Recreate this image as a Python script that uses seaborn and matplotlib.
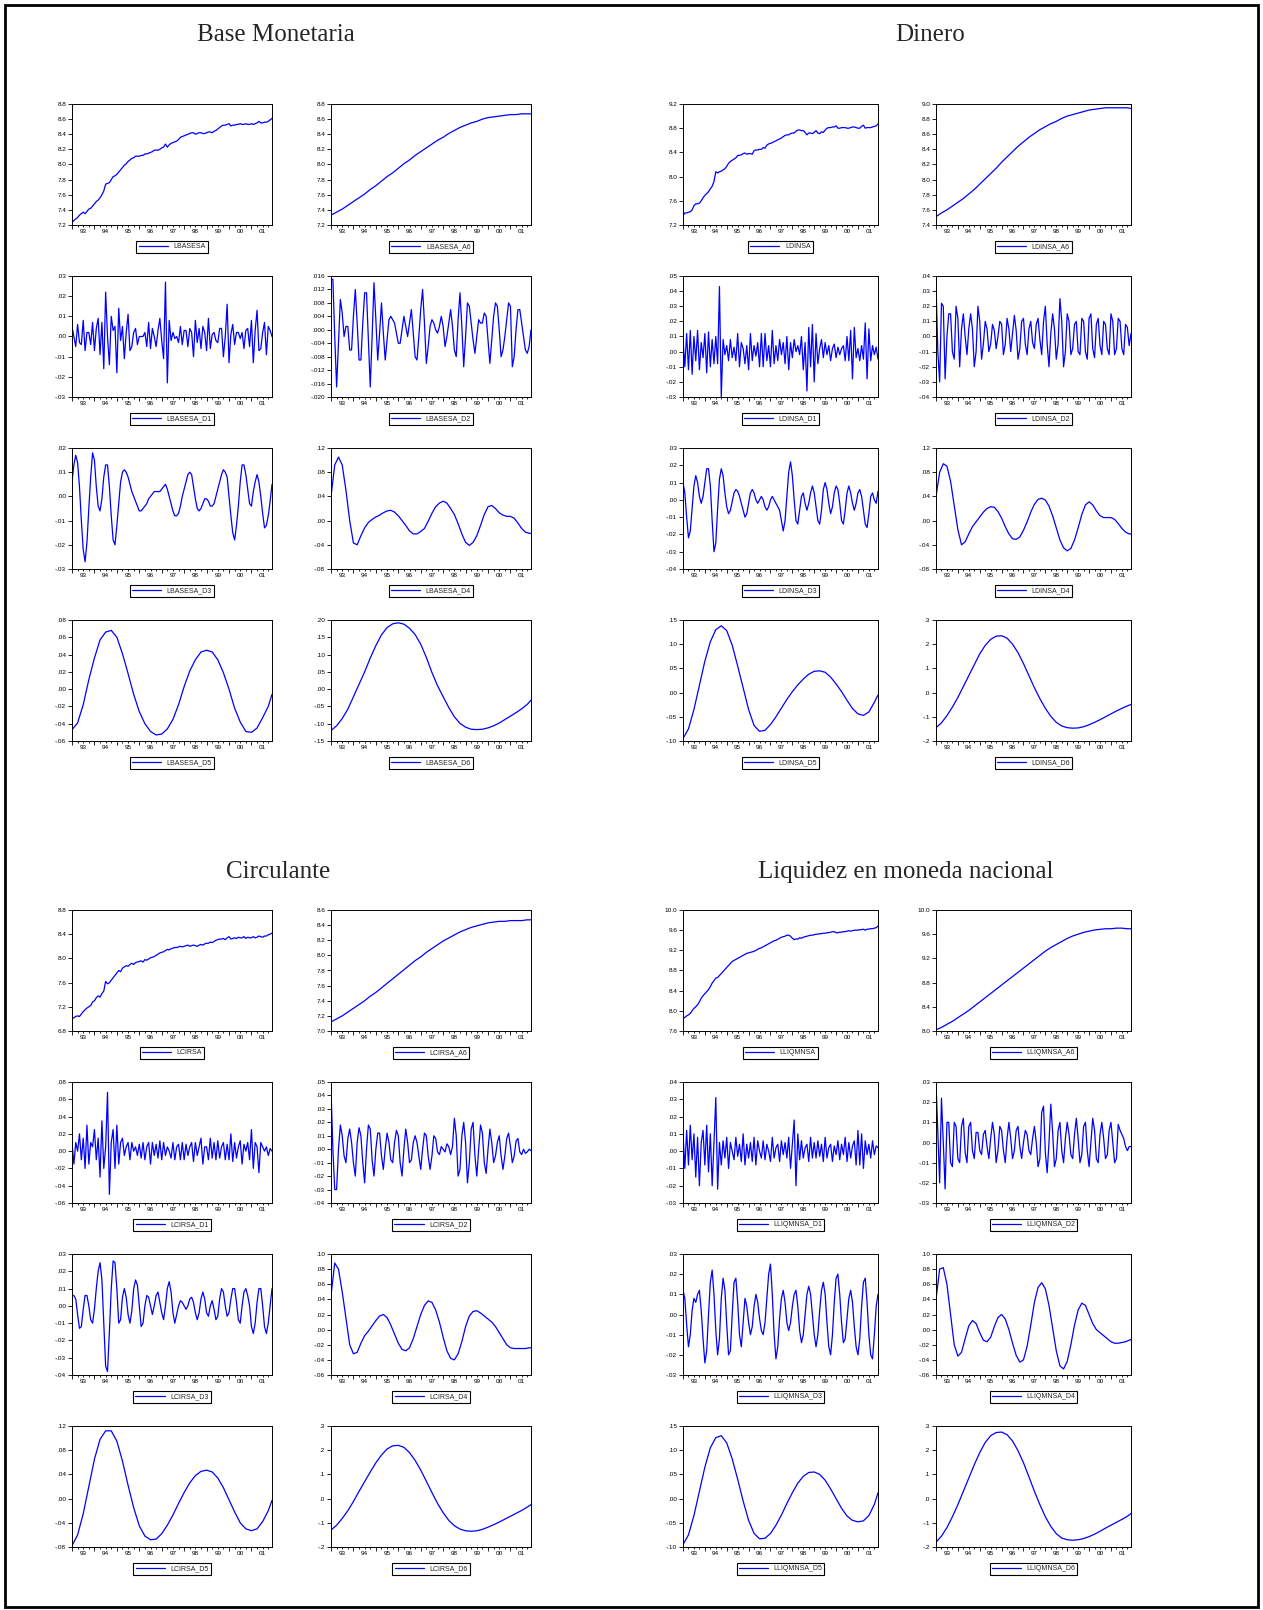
import numpy as np
import seaborn as sns
import matplotlib.pyplot as plt
from matplotlib.patches import Rectangle
from matplotlib.ticker import FixedLocator, FuncFormatter

sns.set_style('ticks')
plt.rcParams['font.family'] = ['Liberation Sans', 'DejaVu Sans']

# ---------------------------------------------------------------------------
# fechas: meses desde 1993:01 (mensual, bimestral, trimestral)
t_m = np.arange(108)
t_b = np.r_[np.arange(0, 107, 2), 107]
t_q = np.r_[np.arange(0, 106, 3), 107]
years = ['93', '94', '95', '96', '97', '98', '99', '00', '01']

# ---------------------------------------------------------------------------
# Base Monetaria
lbasesa = [7.23, 7.26, 7.28, 7.30, 7.33, 7.35, 7.37, 7.35, 7.38, 7.41, 7.42, 7.45,
           7.48, 7.51, 7.53, 7.56, 7.60, 7.65, 7.74, 7.75, 7.76, 7.80, 7.84, 7.85,
           7.87, 7.90, 7.93, 7.96, 7.99, 8.01, 8.04, 8.06, 8.08, 8.09, 8.11, 8.11,
           8.11, 8.12, 8.12, 8.14, 8.14, 8.15, 8.16, 8.17, 8.19, 8.19, 8.19, 8.20,
           8.22, 8.23, 8.27, 8.23, 8.26, 8.28, 8.29, 8.30, 8.31, 8.33, 8.36, 8.37,
           8.38, 8.39, 8.40, 8.41, 8.42, 8.42, 8.40, 8.41, 8.42, 8.42, 8.41, 8.41,
           8.42, 8.43, 8.43, 8.42, 8.44, 8.45, 8.47, 8.49, 8.51, 8.52, 8.52, 8.53,
           8.54, 8.51, 8.52, 8.52, 8.53, 8.53, 8.54, 8.53, 8.53, 8.54, 8.53, 8.53,
           8.54, 8.53, 8.54, 8.55, 8.57, 8.55, 8.55, 8.56, 8.56, 8.57, 8.59, 8.61]
lbasesa_a6 = [7.33, 7.37, 7.41, 7.46, 7.51, 7.56, 7.61, 7.67, 7.72, 7.78, 7.84, 7.89,
              7.95, 8.01, 8.06, 8.12, 8.17, 8.22, 8.27, 8.32, 8.36, 8.41, 8.45, 8.49,
              8.52, 8.55, 8.57, 8.60, 8.62, 8.63, 8.64, 8.65, 8.66, 8.66, 8.67, 8.67, 8.67]
lbasesa_d1 = [.005, .000, -.005, .006, -.003, -.004, .008, -.007, .002, .002, -.004, .007,
              -.007, .004, .009, -.009, .007, -.016, .022, .000, -.014, .010, .003, .005,
              -.018, .014, -.002, .005, -.011, .002, .011, -.007, -.005, .002, .004, -.004,
              .000, .000, .000, .002, -.005, .007, -.006, .004, .000, -.005, .003, .009,
              -.002, -.011, .027, -.023, .008, -.002, .002, -.001, .000, -.003, .005, -.004,
              .003, .003, -.005, .004, .002, -.010, .008, -.003, .004, -.006, .005, .002,
              -.007, .009, -.006, .001, .002, -.002, -.003, .004, .004, -.010, .000, .016,
              -.013, .001, .006, -.004, .002, .002, -.001, .002, -.006, .003, .004, -.005,
              .008, -.013, .003, .013, -.007, -.006, .002, .007, -.009, .005, .003, .000]
lbasesa_d2 = [.015, .015, -.002, -.017, -.004, .009, .005, -.002, .001, .001, -.006, -.006,
              .004, .012, .002, -.009, -.009, .002, .011, .011, -.003, -.017, -.002, .014,
              .003, -.009, -.001, .008, -.001, -.009, -.003, .003, .004, .003, .002, -.001,
              -.004, -.004, .000, .004, .001, -.002, .002, .006, -.001, -.008, -.009, -.002,
              .006, .012, .002, -.010, -.005, .001, .003, .002, .000, -.001, .001, .004,
              .001, -.005, -.002, .002, .006, .001, -.006, -.008, .003, .011, .001, -.011,
              -.002, .008, .007, .002, -.003, -.007, -.002, .003, .002, .002, .005, .004,
              -.003, -.010, -.003, .004, .008, .007, .000, -.008, -.006, -.002, .003, .008,
              .007, -.011, -.008, .000, .006, .006, .002, -.002, -.006, -.007, -.005, .000]
lbasesa_d3 = [.006, .013, .017, .014, .004, -.010, -.022, -.027, -.019, -.005, .008, .018,
              .015, .004, -.004, -.006, -.001, .008, .013, .013, .004, -.008, -.018, -.020,
              -.012, -.003, .006, .010, .011, .010, .008, .005, .002, .000, -.002, -.004,
              -.006, -.006, -.005, -.004, -.003, -.001, .000, .001, .002, .002, .002, .002,
              .003, .004, .005, .003, .000, -.003, -.006, -.008, -.008, -.007, -.004, .000,
              .003, .006, .009, .010, .009, .004, -.001, -.005, -.006, -.005, -.003, -.001,
              -.001, -.002, -.004, -.004, -.003, .000, .003, .006, .009, .011, .010, .008,
              .000, -.008, -.015, -.018, -.012, -.004, .006, .013, .013, .009, .003, -.003,
              -.004, .002, .006, .009, .006, .000, -.007, -.013, -.012, -.008, -.002, .005]
lbasesa_d4 = [.040, .092, .105, .092, .050, .000, -.037, -.040, -.025, -.012, -.003, .002,
              .006, .009, .013, .016, .017, .014, .008, .000, -.008, -.017, -.022, -.022,
              -.018, -.013, -.001, .012, .023, .029, .032, .029, .020, .010, -.005, -.022,
              -.036, -.041, -.036, -.025, -.008, .010, .023, .025, .020, .013, .009, .007,
              .007, .004, -.004, -.013, -.019, -.021, -.021]
lbasesa_d5 = [-.047, -.039, -.018, .011, .036, .057, .066, .068, .060, .041, .018, -.006,
              -.026, -.040, -.049, -.053, -.052, -.046, -.035, -.018, .003, .021, .034, .043,
              .045, .043, .034, .019, .000, -.022, -.038, -.049, -.050, -.045, -.033, -.020, -.006]
lbasesa_d6 = [-.120, -.106, -.085, -.058, -.022, .014, .050, .090, .126, .157, .178, .189,
              .192, .188, .176, .158, .130, .092, .048, .010, -.022, -.053, -.080, -.099,
              -.110, -.116, -.117, -.116, -.112, -.106, -.098, -.088, -.078, -.068, -.057, -.044, -.032]

# ---------------------------------------------------------------------------
# Dinero
ldinsa = [7.35, 7.40, 7.40, 7.41, 7.42, 7.45, 7.52, 7.55, 7.55, 7.56, 7.60, 7.65,
          7.69, 7.72, 7.75, 7.80, 7.84, 7.92, 8.08, 8.06, 8.08, 8.09, 8.11, 8.13,
          8.17, 8.22, 8.25, 8.27, 8.29, 8.31, 8.35, 8.35, 8.36, 8.38, 8.39, 8.37,
          8.38, 8.38, 8.37, 8.43, 8.44, 8.44, 8.45, 8.45, 8.48, 8.47, 8.52, 8.54,
          8.55, 8.56, 8.58, 8.59, 8.61, 8.62, 8.64, 8.66, 8.68, 8.69, 8.69, 8.71,
          8.72, 8.72, 8.75, 8.77, 8.77, 8.76, 8.76, 8.73, 8.69, 8.72, 8.72, 8.71,
          8.73, 8.76, 8.72, 8.71, 8.74, 8.73, 8.77, 8.80, 8.81, 8.81, 8.82, 8.82,
          8.84, 8.80, 8.80, 8.81, 8.81, 8.81, 8.80, 8.80, 8.81, 8.82, 8.82, 8.81,
          8.80, 8.80, 8.83, 8.85, 8.80, 8.81, 8.81, 8.81, 8.82, 8.83, 8.84, 8.87]
ldinsa_a6 = [7.51, 7.56, 7.60, 7.65, 7.70, 7.75, 7.81, 7.87, 7.94, 8.01, 8.08, 8.15,
             8.23, 8.30, 8.37, 8.44, 8.50, 8.56, 8.61, 8.66, 8.70, 8.74, 8.77, 8.81,
             8.84, 8.86, 8.88, 8.90, 8.92, 8.93, 8.94, 8.95, 8.95, 8.95, 8.95, 8.95, 8.94]
ldinsa_d1 = [.008, -.010, .012, -.012, .014, -.015, .010, -.006, .014, -.012, .006, -.004,
             .012, -.014, .013, -.010, .008, -.008, .010, -.008, .043, -.030, .008, -.002,
             .004, -.006, .008, -.004, .003, -.006, .012, -.010, .006, .002, -.008, .004,
             -.012, .012, -.006, .004, -.003, .006, -.010, .012, -.010, .012, -.006, .004,
             -.010, .014, -.008, .004, -.006, .008, -.002, .006, -.008, .010, -.012, .006,
             -.004, .008, .000, .004, -.002, .010, -.012, .006, -.026, .016, -.010, .018,
             -.020, .012, -.008, .002, .008, -.004, .006, -.002, .004, -.006, .002, .005,
             -.004, .003, -.002, .002, .004, -.006, .010, -.006, .014, -.018, .016, -.004,
             .002, -.006, .004, -.005, .019, -.018, .015, -.006, .004, -.002, .003, -.005]
ldinsa_d2 = [.035, -.010, -.030, .022, .020, -.028, .000, .015, .015, -.010, -.015, .020,
             .012, -.020, .005, .015, .000, -.012, .005, .015, .005, -.020, -.010, .020,
             .010, -.015, -.005, .010, .005, -.010, -.005, .008, .004, -.008, .000, .010,
             .008, -.012, -.005, .012, .005, -.010, .002, .014, .004, -.015, -.008, .010,
             .012, -.005, -.012, .005, .010, -.004, -.008, .008, .012, -.002, -.012, .010,
             .020, -.005, -.020, .002, .015, .005, -.015, -.005, .025, .010, -.020, -.010,
             .015, .010, -.012, -.008, .008, .010, -.010, -.012, .012, .010, -.010, -.015,
             .012, .015, -.008, -.014, .008, .012, -.006, -.012, .010, .008, -.008, -.012,
             .015, .010, -.012, -.008, .012, .010, -.008, -.012, .008, .006, -.006, .002]
ldinsa_d3 = [.010, .004, -.010, -.022, -.018, -.005, .008, .014, .010, .002, -.002, .002,
             .010, .018, .018, .008, -.012, -.030, -.025, -.005, .012, .018, .014, .004,
             -.004, -.008, -.006, -.001, .004, .006, .005, .002, -.002, -.006, -.010, -.008,
             -.002, .004, .006, .004, .000, -.002, .000, .002, .000, -.004, -.006, -.004,
             .000, .002, .000, -.002, -.004, -.006, -.012, -.018, -.012, .002, .016, .022,
             .014, .000, -.012, -.014, -.006, .002, .004, -.002, -.006, -.002, .004, .008,
             .004, -.004, -.012, -.014, -.006, .006, .010, .006, -.002, -.008, -.004, .004,
             .008, .006, -.002, -.012, -.014, -.006, .004, .008, .004, -.002, -.006, -.002,
             .004, .006, .002, -.006, -.014, -.016, -.008, .002, .004, .000, -.002, .005]
ldinsa_d4 = [.040, .080, .094, .090, .065, .025, -.015, -.040, -.035, -.022, -.010, -.002,
             .006, .014, .020, .023, .022, .015, .004, -.010, -.022, -.030, -.031, -.027,
             -.016, -.002, .014, .027, .035, .037, .034, .024, .008, -.012, -.032, -.045,
             -.050, -.046, -.032, -.012, .010, .026, .031, .026, .016, .008, .005, .005,
             .005, .002, -.005, -.013, -.019, -.022, -.022]
ldinsa_d5 = [-.095, -.075, -.035, .015, .065, .105, .130, .138, .128, .098, .055, .010,
             -.035, -.068, -.080, -.078, -.066, -.050, -.032, -.014, .002, .016, .028, .038,
             .044, .045, .042, .032, .018, .002, -.016, -.033, -.044, -.047, -.040, -.020, -.005]
ldinsa_d6 = [-.145, -.125, -.095, -.060, -.020, .025, .070, .115, .160, .195, .220, .233,
             .235, .225, .200, .165, .120, .070, .020, -.025, -.065, -.098, -.123, -.138,
             -.145, -.147, -.146, -.141, -.133, -.123, -.112, -.100, -.088, -.076, -.065, -.055, -.049]

# ---------------------------------------------------------------------------
# Circulante
lcirsa = [7.00, 7.02, 7.04, 7.05, 7.04, 7.08, 7.12, 7.15, 7.18, 7.20, 7.22, 7.28,
          7.30, 7.35, 7.38, 7.36, 7.42, 7.46, 7.62, 7.58, 7.60, 7.64, 7.68, 7.72,
          7.76, 7.80, 7.78, 7.84, 7.86, 7.88, 7.87, 7.90, 7.92, 7.90, 7.93, 7.94,
          7.95, 7.96, 7.94, 7.98, 7.97, 7.99, 8.01, 8.02, 8.03, 8.05, 8.07, 8.09,
          8.10, 8.11, 8.13, 8.15, 8.14, 8.16, 8.17, 8.18, 8.18, 8.19, 8.20, 8.19,
          8.20, 8.21, 8.22, 8.20, 8.21, 8.22, 8.21, 8.20, 8.22, 8.23, 8.22, 8.24,
          8.25, 8.25, 8.27, 8.26, 8.28, 8.30, 8.31, 8.32, 8.32, 8.33, 8.31, 8.34,
          8.36, 8.32, 8.33, 8.34, 8.33, 8.35, 8.34, 8.34, 8.36, 8.33, 8.35, 8.34,
          8.34, 8.36, 8.34, 8.35, 8.37, 8.36, 8.35, 8.37, 8.37, 8.39, 8.40, 8.42]
lcirsa_a6 = [7.12, 7.16, 7.20, 7.25, 7.30, 7.35, 7.40, 7.46, 7.51, 7.57, 7.63, 7.69,
             7.75, 7.81, 7.87, 7.93, 7.98, 8.04, 8.09, 8.14, 8.19, 8.23, 8.27, 8.31,
             8.34, 8.37, 8.39, 8.41, 8.43, 8.44, 8.45, 8.45, 8.46, 8.46, 8.46, 8.47, 8.47]
lcirsa_d1 = [.010, -.015, .010, .000, .020, -.010, .015, -.020, .030, -.015, .010, .005,
             .025, -.010, .015, -.030, .035, -.020, .005, .068, -.050, .010, .025, -.020,
             .030, -.015, .010, .015, -.005, .005, .010, -.010, .010, .000, .005, -.005,
             .008, -.008, .010, -.010, .005, .010, -.015, .010, -.005, .008, -.008, .012,
             -.010, .010, -.005, .005, .000, -.008, .010, -.010, .005, .008, -.010, .010,
             -.010, .008, -.005, .005, .010, -.012, .010, -.005, .005, .015, -.015, .005,
             .005, -.010, .015, -.008, .010, -.010, .012, -.008, .005, .010, -.010, .008,
             -.010, .020, -.012, .010, -.008, .005, .012, -.015, .008, .000, .010, -.010,
             .025, -.020, .010, .005, -.025, .010, .005, .000, .005, -.005, .003, .000]
lcirsa_d2 = [.045, .000, -.030, -.030, .000, .018, .010, -.005, -.010, .008, .015, .005,
             -.010, -.020, .005, .016, .010, -.010, -.025, .000, .018, .015, -.008, -.020,
             .000, .012, .012, -.005, -.015, .000, .012, .005, -.008, -.010, .005, .014,
             .010, -.010, -.020, .000, .015, .005, -.010, -.008, .005, .010, .005, -.005,
             -.015, .000, .012, .010, -.005, -.015, -.005, .010, .008, -.002, -.004, .002,
             .000, -.002, .004, .002, -.004, .002, .023, .010, -.020, -.015, .010, .020,
             .005, -.025, -.010, .015, .020, -.005, -.020, .000, .018, .012, -.010, -.018,
             .000, .015, .005, -.010, -.005, .005, .010, -.005, -.015, -.005, .008, .012,
             .002, -.010, -.005, .006, .008, -.002, -.004, .000, -.003, -.002, .000, -.001]
lcirsa_d3 = [.006, .006, .004, -.005, -.013, -.012, -.002, .006, .006, .000, -.008, -.010,
             -.002, .010, .020, .025, .015, -.010, -.035, -.038, -.015, .010, .026, .025,
             .010, -.010, -.008, .005, .010, .005, -.005, -.010, -.003, .010, .015, .012,
             .000, -.012, -.010, .000, .006, .005, .000, -.005, .000, .006, .008, .002,
             -.004, -.008, .000, .010, .014, .008, -.004, -.010, -.005, .000, .003, .002,
             .000, -.002, .000, .004, .005, .002, -.004, -.008, -.004, .004, .008, .004,
             -.004, -.006, .000, .003, -.002, -.008, -.006, .004, .010, .008, .000, -.006,
             -.004, .004, .010, .010, .002, -.008, -.010, .000, .008, .010, .006, .000,
             -.012, -.016, -.010, .002, .010, .010, .000, -.012, -.016, -.010, .000, .010]
lcirsa_d4 = [.045, .088, .080, .050, .015, -.020, -.032, -.030, -.018, -.008, -.002, .005,
             .012, .018, .020, .016, .006, -.006, -.018, -.026, -.028, -.024, -.012, .004,
             .020, .032, .038, .036, .026, .010, -.010, -.028, -.038, -.040, -.032, -.016,
             .004, .018, .024, .025, .022, .018, .014, .010, .004, -.004, -.012, -.020,
             -.024, -.025, -.025, -.025, -.025, -.024, -.024]
lcirsa_d5 = [-.078, -.060, -.025, .020, .065, .098, .112, .112, .095, .062, .022, -.015,
             -.045, -.062, -.068, -.067, -.058, -.044, -.027, -.008, .010, .026, .038, .045,
             .047, .044, .034, .018, -.002, -.022, -.040, -.050, -.053, -.050, -.038, -.020, -.003]
lcirsa_d6 = [-.130, -.110, -.082, -.050, -.012, .030, .070, .110, .148, .180, .205, .218,
             .220, .212, .190, .158, .118, .072, .025, -.020, -.058, -.090, -.112, -.126,
             -.133, -.135, -.133, -.127, -.118, -.108, -.097, -.085, -.073, -.061, -.049, -.035, -.025]

# ---------------------------------------------------------------------------
# Liquidez en moneda nacional
lliqmnsa = [7.85, 7.87, 7.90, 7.92, 7.95, 8.00, 8.05, 8.08, 8.12, 8.18, 8.25, 8.30,
            8.34, 8.38, 8.42, 8.48, 8.55, 8.60, 8.65, 8.66, 8.70, 8.74, 8.78, 8.82,
            8.86, 8.90, 8.94, 8.98, 9.00, 9.02, 9.04, 9.06, 9.08, 9.10, 9.12, 9.14,
            9.15, 9.16, 9.17, 9.18, 9.20, 9.22, 9.24, 9.25, 9.27, 9.29, 9.31, 9.33,
            9.35, 9.37, 9.39, 9.40, 9.42, 9.44, 9.46, 9.47, 9.48, 9.50, 9.50, 9.48,
            9.44, 9.41, 9.43, 9.42, 9.45, 9.44, 9.46, 9.47, 9.48, 9.49, 9.50, 9.50,
            9.51, 9.52, 9.52, 9.53, 9.53, 9.54, 9.54, 9.55, 9.55, 9.56, 9.57, 9.57,
            9.55, 9.55, 9.56, 9.56, 9.57, 9.57, 9.58, 9.59, 9.58, 9.59, 9.60, 9.60,
            9.60, 9.61, 9.61, 9.62, 9.60, 9.62, 9.62, 9.63, 9.63, 9.64, 9.65, 9.68]
lliqmnsa_a6 = [8.02, 8.06, 8.11, 8.16, 8.22, 8.28, 8.34, 8.41, 8.48, 8.55, 8.62, 8.69,
               8.76, 8.83, 8.90, 8.97, 9.04, 9.11, 9.18, 9.25, 9.32, 9.38, 9.43, 9.48,
               9.53, 9.57, 9.60, 9.63, 9.65, 9.67, 9.68, 9.69, 9.69, 9.70, 9.70, 9.69, 9.69]
lliqmnsa_d1 = [.010, -.010, .012, -.008, .015, -.005, .010, -.015, .008, -.020, .005, .012,
               -.008, .015, -.012, .010, -.020, .005, .031, -.022, .005, -.008, .006, -.004,
               .008, -.010, .005, .000, -.005, .008, -.003, .004, -.006, .010, -.008, .004,
               -.004, .005, -.006, .008, -.008, .006, .000, -.004, .006, -.005, .004, .000,
               -.006, .008, -.004, .002, .004, -.006, .006, -.002, .005, -.004, .008, -.010,
               .004, .018, -.020, .010, -.005, .006, -.004, .002, .004, -.006, .008, -.004,
               .005, -.004, .006, -.003, .004, -.006, .008, -.004, .002, .004, -.006, .003,
               -.002, .006, -.005, .004, -.002, .008, -.006, .005, -.004, .003, .006, -.008,
               .012, -.008, .010, -.010, .006, -.002, .004, -.004, .006, -.002, .003, .002]
lliqmnsa_d2 = [.030, .005, -.020, .022, .000, -.023, .010, .010, -.010, -.012, .010, .008,
               -.008, -.010, .008, .012, -.005, -.010, .008, .010, -.004, -.008, .005, .005,
               -.004, -.006, .004, .006, -.002, -.008, .002, .010, .004, -.010, -.004, .008,
               .006, -.004, -.010, .002, .010, .002, -.008, -.004, .006, .008, -.002, -.008,
               .000, .006, .004, -.004, -.006, .002, .008, .000, -.012, -.008, .015, .018,
               -.005, -.015, .000, .019, .005, -.012, -.008, .006, .010, -.004, -.010, .002,
               .010, .004, -.006, -.008, .004, .012, .002, -.010, -.006, .008, .010, -.004,
               -.012, .000, .012, .006, -.008, -.010, .004, .010, .002, -.008, -.006, .006,
               .010, .000, -.010, -.008, .009, .006, .004, .002, -.002, -.004, -.002, -.002]
lliqmnsa_d3 = [.012, .008, -.005, -.016, -.010, .002, .008, .006, .010, .012, .002, -.012,
               -.024, -.018, .000, .016, .022, .010, -.008, -.020, -.012, .008, .018, .012,
               -.005, -.020, -.018, .000, .016, .018, .006, -.010, -.016, -.004, .008, .004,
               -.004, -.010, -.006, .004, .010, .006, -.002, -.008, -.010, -.004, .008, .020,
               .025, .010, -.010, -.022, -.016, -.002, .008, .012, .006, -.004, -.008, -.004,
               .004, .010, .012, .004, -.008, -.014, -.010, .000, .010, .014, .010, .000,
               -.010, -.016, -.010, .002, .012, .016, .010, -.004, -.016, -.020, -.010, .006,
               .018, .020, .010, -.004, -.014, -.012, -.002, .008, .012, .006, -.006, -.016,
               -.020, -.012, .004, .016, .018, .006, -.010, -.020, -.022, -.010, .004, .010]
lliqmnsa_d4 = [.040, .080, .082, .060, .020, -.020, -.035, -.030, -.012, .005, .012, .008,
               -.004, -.014, -.016, -.010, .004, .016, .020, .014, .000, -.018, -.034, -.043,
               -.040, -.022, .006, .036, .056, .062, .054, .032, .002, -.028, -.048, -.052,
               -.042, -.020, .006, .026, .035, .032, .020, .008, .000, -.004, -.008, -.012,
               -.016, -.018, -.018, -.017, -.016, -.014, -.013]
lliqmnsa_d5 = [-.095, -.075, -.035, .015, .065, .105, .126, .130, .115, .082, .040, -.005,
               -.045, -.072, -.083, -.082, -.072, -.055, -.034, -.010, .012, .032, .046, .054,
               .055, .050, .038, .020, .000, -.020, -.036, -.045, -.048, -.046, -.035, -.012, .012]
lliqmnsa_d6 = [-.180, -.155, -.120, -.075, -.025, .030, .085, .140, .190, .232, .260, .273,
               .275, .264, .238, .198, .148, .090, .030, -.025, -.075, -.115, -.145, -.163,
               -.170, -.172, -.170, -.165, -.157, -.147, -.135, -.122, -.110, -.098, -.086, -.073, -.062]

# ---------------------------------------------------------------------------
# paneles de cada bloque: (etiqueta, serie, fechas, ymin, ymax, paso, decimales)
grupos = [
    ('Base Monetaria', (276, 41), [72, 331], 200, [104, 276, 448, 620], [
        ('LBASESA', lbasesa, t_m, 7.2, 8.8, 0.2, 1),
        ('LBASESA_A6', lbasesa_a6, t_q, 7.2, 8.8, 0.2, 1),
        ('LBASESA_D1', lbasesa_d1, t_m, -.03, .03, .01, 2),
        ('LBASESA_D2', lbasesa_d2, t_m, -.020, .016, .004, 3),
        ('LBASESA_D3', lbasesa_d3, t_m, -.03, .02, .01, 2),
        ('LBASESA_D4', lbasesa_d4, t_b, -.08, .12, .04, 2),
        ('LBASESA_D5', lbasesa_d5, t_q, -.06, .08, .02, 2),
        ('LBASESA_D6', lbasesa_d6, t_q, -.15, .20, .05, 2)]),
    ('Dinero', (930, 41), [683, 936], 195, [104, 276, 448, 620], [
        ('LDINSA', ldinsa, t_m, 7.2, 9.2, 0.4, 1),
        ('LDINSA_A6', ldinsa_a6, t_q, 7.4, 9.0, 0.2, 1),
        ('LDINSA_D1', ldinsa_d1, t_m, -.03, .05, .01, 2),
        ('LDINSA_D2', ldinsa_d2, t_m, -.04, .04, .01, 2),
        ('LDINSA_D3', ldinsa_d3, t_m, -.04, .03, .01, 2),
        ('LDINSA_D4', ldinsa_d4, t_b, -.08, .12, .04, 2),
        ('LDINSA_D5', ldinsa_d5, t_q, -.10, .15, .05, 2),
        ('LDINSA_D6', ldinsa_d6, t_q, -.2, .3, .1, 1)]),
    ('Circulante', (278, 878), [72, 331], 200, [910, 1082, 1254, 1426], [
        ('LCIRSA', lcirsa, t_m, 6.8, 8.8, 0.4, 1),
        ('LCIRSA_A6', lcirsa_a6, t_q, 7.0, 8.6, 0.2, 1),
        ('LCIRSA_D1', lcirsa_d1, t_m, -.06, .08, .02, 2),
        ('LCIRSA_D2', lcirsa_d2, t_m, -.04, .05, .01, 2),
        ('LCIRSA_D3', lcirsa_d3, t_m, -.04, .03, .01, 2),
        ('LCIRSA_D4', lcirsa_d4, t_b, -.06, .10, .02, 2),
        ('LCIRSA_D5', lcirsa_d5, t_q, -.08, .12, .04, 2),
        ('LCIRSA_D6', lcirsa_d6, t_q, -.2, .3, .1, 1)]),
    ('Liquidez en moneda nacional', (906, 878), [683, 936], 195, [910, 1082, 1254, 1426], [
        ('LLIQMNSA', lliqmnsa, t_m, 7.6, 10.0, 0.4, 1),
        ('LLIQMNSA_A6', lliqmnsa_a6, t_q, 8.0, 10.0, 0.4, 1),
        ('LLIQMNSA_D1', lliqmnsa_d1, t_m, -.03, .04, .01, 2),
        ('LLIQMNSA_D2', lliqmnsa_d2, t_m, -.03, .03, .01, 2),
        ('LLIQMNSA_D3', lliqmnsa_d3, t_m, -.03, .03, .01, 2),
        ('LLIQMNSA_D4', lliqmnsa_d4, t_b, -.06, .10, .02, 2),
        ('LLIQMNSA_D5', lliqmnsa_d5, t_q, -.10, .15, .05, 2),
        ('LLIQMNSA_D6', lliqmnsa_d6, t_q, -.2, .3, .1, 1)]),
]

W, H = 1263, 1610
fig = plt.figure(figsize=(W / 100, H / 100), dpi=100)


def fmt(v, dec):
    # estilo eviews: sin el cero inicial (.01, -.02)
    s = f'{round(v, dec) + 0.0:.{dec}f}'
    if s.startswith('-0.'):
        s = '-' + s[2:]
    elif s.startswith('0.'):
        s = s[1:]
    return s


def panel(x0, y0, w, h, name, y, t, lo, hi, step, dec):
    ax = fig.add_axes([x0 / W, 1 - (y0 + h) / H, w / W, h / H])
    sns.lineplot(x=t, y=y, ax=ax, color='#0000ff', linewidth=0.9, label=name)
    ax.set_xlim(0, 107)
    ax.set_ylim(lo, hi)
    ax.yaxis.set_major_locator(FixedLocator(np.arange(lo, hi + step / 2, step)))
    ax.yaxis.set_major_formatter(FuncFormatter(lambda v, p: fmt(v, dec)))
    ax.xaxis.set_major_locator(FixedLocator(range(0, 108, 12)))
    ax.xaxis.set_major_formatter(FuncFormatter(lambda v, p: ''))
    ax.xaxis.set_minor_locator(FixedLocator([m for m in range(3, 108, 3) if m % 12]))
    ax.xaxis.set_minor_formatter(FuncFormatter(
        lambda v, p: years[int(round(v)) // 12] if int(round(v)) % 12 == 6 else ''))
    ax.tick_params(which='both', direction='out', width=0.6, labelsize=4.6, pad=1.2,
                   colors='black')
    ax.tick_params(which='major', length=3)
    ax.tick_params(which='minor', length=1.6)
    ax.set_xlabel('')
    ax.set_ylabel('')
    for sp in ax.spines.values():
        sp.set_linewidth(0.7)
        sp.set_color('black')
    leg = ax.legend(loc='upper center', bbox_to_anchor=(0.5, -0.135), fontsize=5.0,
                    frameon=True, fancybox=False, edgecolor='black', framealpha=1,
                    handlelength=4.2, handletextpad=0.8, borderpad=0.3, borderaxespad=0)
    leg.get_frame().set_linewidth(0.8)
    return ax


for titulo, (tx, ty), cols, w, rows, specs in grupos:
    fig.text(tx / W, 1 - ty / H, titulo, ha='center', va='baseline', fontsize=18,
             family=['Liberation Serif', 'DejaVu Serif'])
    for i, (name, y, t, lo, hi, step, dec) in enumerate(specs):
        panel(cols[i % 2], rows[i // 2], w, 121, name, y, t, lo, hi, step, dec)

# marco exterior
fig.patches.append(Rectangle((5 / W, 1 - 1607 / H), 1253 / W, 1602 / H, transform=fig.transFigure,
                             fill=False, edgecolor='black', linewidth=2))

fig.savefig('out.png', dpi=100)
